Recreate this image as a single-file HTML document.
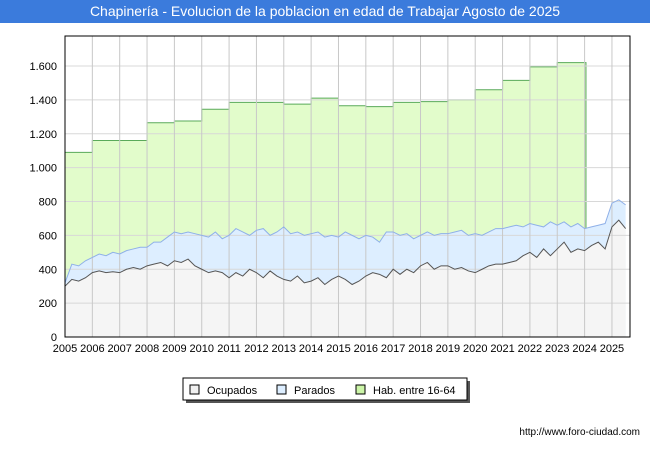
<!DOCTYPE html>
<html><head><meta charset="utf-8"><style>
body{margin:0;width:650px;height:450px;background:#fff;font-family:"Liberation Sans",sans-serif;overflow:hidden;position:relative}
#title{position:absolute;left:0;top:0;width:650px;height:23px;background:#3b7bdc;color:#fff;font-size:14px;text-align:center;line-height:23px}
#url{position:absolute;right:10px;top:427px;font-size:10px;color:#000}
</style></head><body>
<div id="title">Chapinería - Evolucion de la poblacion en edad de Trabajar Agosto de 2025</div>
<svg id="c" width="650" height="450" style="position:absolute;left:0;top:0"></svg>
<div id="url">http://www.foro-ciudad.com</div>
<script>
const yTicks=[0,200,400,600,800,1000,1200,1400,1600];
const yTickLabels=["0","200","400","600","800","1.000","1.200","1.400","1.600"];
const years=[2005,2006,2007,2008,2009,2010,2011,2012,2013,2014,2015,2016,2017,2018,2019,2020,2021,2022,2023,2024,2025];
const habYears=[2005,2006,2007,2008,2009,2010,2011,2012,2013,2014,2015,2016,2017,2018,2019,2020,2021,2022,2023];
const habValues=[1090,1160,1160,1265,1275,1345,1385,1385,1375,1410,1365,1360,1385,1390,1400,1460,1515,1595,1620];
const ocupados=[300,340,330,350,380,390,380,385,380,400,410,400,420,430,440,420,450,440,460,420,400,380,390,380,350,380,360,400,380,350,390,360,340,330,360,320,330,350,310,340,360,340,310,330,360,380,370,350,400,370,400,380,420,440,400,420,420,400,410,390,380,400,420,430,430,440,450,480,500,470,520,480,520,560,500,520,510,540,560,520,650,690,640];
const activos=[320,430,420,450,470,490,480,500,490,510,520,530,530,560,560,590,620,610,620,610,600,590,620,580,600,640,620,600,630,640,600,620,650,610,620,600,610,620,590,600,590,620,600,580,600,590,560,620,620,600,610,580,600,620,600,610,610,620,630,600,610,600,620,640,640,650,660,650,670,660,650,680,660,680,650,670,640,650,660,670,790,810,780];
const parados=activos.map((a,i)=>a-ocupados[i]);
const L=65,R=630,T=36,B=337,x0=2005,x1=2025.66;
const X=v=>L+(v-x0)/(x1-x0)*(R-L);
const Y=v=>B-v/1600*(B-66);
const tq=i=>2005+i*0.25;
const svg=document.getElementById('c');const NS='http://www.w3.org/2000/svg';
function mk(t,a){const e=document.createElementNS(NS,t);for(const k in a)e.setAttribute(k,a[k]);svg.appendChild(e);return e;}
let e=mk('rect',{x:L,y:T,width:R-L,height:B-T,fill:'#fff',stroke:'none'});


// hab area
let hp=`M${X(2005)},${B}`;
habYears.forEach((y,i)=>{const end=i<habYears.length-1?habYears[i+1]:2024.05;hp+=` L${X(y)},${Y(habValues[i])} L${X(end)},${Y(habValues[i])}`;});
hp+=` L${X(2024.05)},${B} Z`;
e=mk('path',{d:hp,fill:'#e2fccb',stroke:'none'});


let hl='';
habYears.forEach((y,i)=>{const end=i<habYears.length-1?habYears[i+1]:2024.05;hl+=`${i?'L':'M'}${X(y)},${Y(habValues[i])} L${X(end)},${Y(habValues[i])} `;});
hl+=`L${X(2024.05)},${Y(activos[76])}`;
e=mk('path',{d:hl,fill:'none',stroke:'#5aaa5a','stroke-width':1});


function pts(arr){return arr.map((v,i)=>`${X(Math.min(tq(i),x1))},${Y(v)}`).join(' L');}
const tot=ocupados.map((o,i)=>o+parados[i]);
e=mk('path',{d:`M${X(2005)},${B} L${pts(tot)} L${X(Math.min(tq(tot.length-1),x1))},${B} Z`,fill:'#ddeeff',stroke:'none'});


e=mk('path',{d:`M${X(2005)},${B} L${pts(ocupados)} L${X(Math.min(tq(ocupados.length-1),x1))},${B} Z`,fill:'#f5f5f5',stroke:'none'});


// grid
yTicks.forEach((v,i)=>{let g=mk('line',{x1:L,x2:R,y1:Y(v),y2:Y(v),stroke:'#d8d8d8'});


let t=mk('text',{x:L-8,y:Y(v)+4,'text-anchor':'end','font-size':11,fill:'#000'});t.textContent=yTickLabels[i];

});
years.forEach(y=>{let g=mk('line',{x1:X(y),x2:X(y),y1:T,y2:B,stroke:'#c8c8c8'});


let t=mk('text',{x:X(y),y:B+15,'text-anchor':'middle','font-size':11,fill:'#000'});t.textContent=y;

});
e=mk('path',{d:`M${pts(tot)}`,fill:'none',stroke:'#8fb0e8','stroke-width':1});


e=mk('path',{d:`M${pts(ocupados)}`,fill:'none',stroke:'#555','stroke-width':1});


e=mk('rect',{x:L,y:T,width:R-L,height:B-T,fill:'none',stroke:'#000'});


// legend
e=mk('rect',{x:186,y:381,width:284,height:22,fill:'#555'});


e=mk('rect',{x:183,y:378,width:284,height:22,fill:'#fff',stroke:'#000'});


const lg=[["Ocupados","#f0f0f0",190],["Parados","#ddeeff",277],["Hab. entre 16-64","#ccf5a8",356]];
lg.forEach(([n,c,x])=>{let r=mk('rect',{x:x,y:385,width:9,height:9,fill:c,stroke:'#000'});


let t=mk('text',{x:x+17,y:394,'font-size':11});t.textContent=n;

});
</script>
</body></html>
